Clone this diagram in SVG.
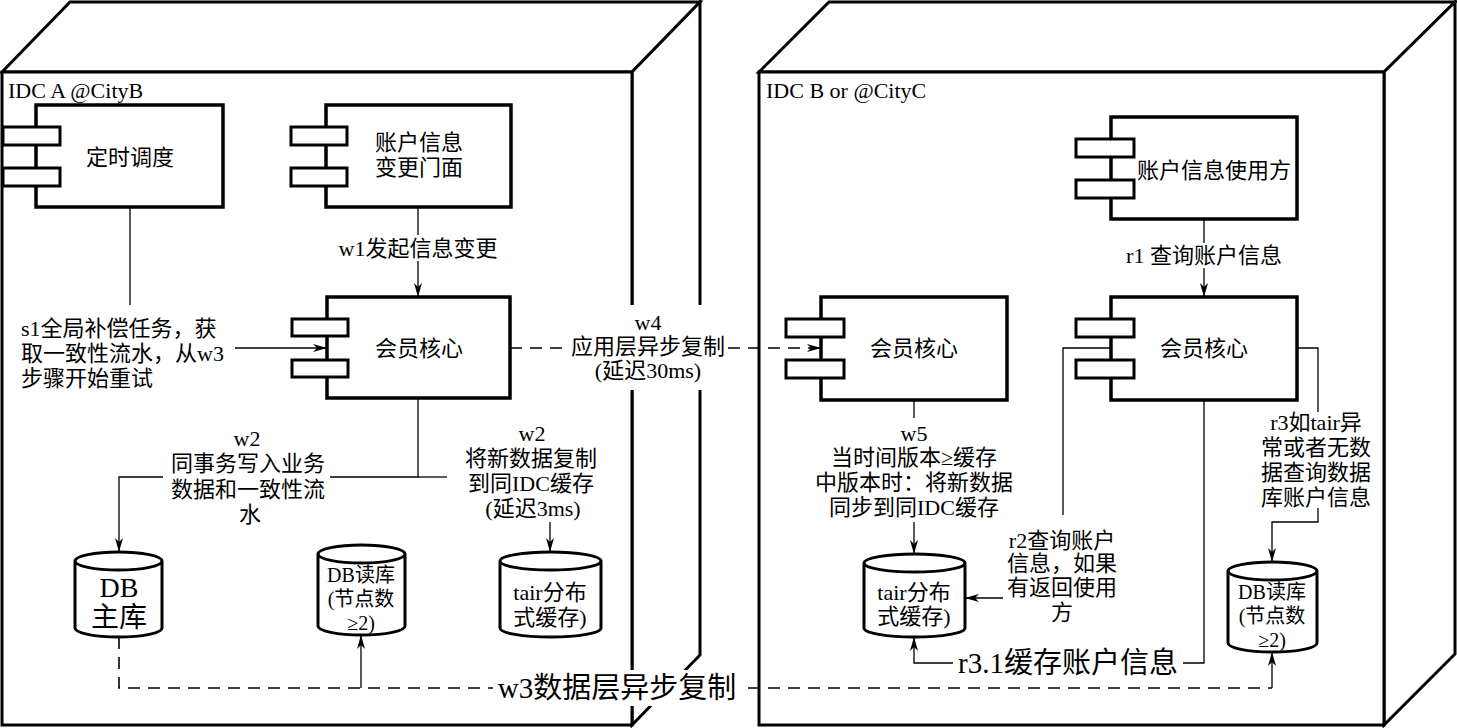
<svg xmlns="http://www.w3.org/2000/svg" width="1457" height="728" viewBox="0 0 1457 728">
<style>
.face{fill:#fff;stroke:#000;stroke-width:3;stroke-linejoin:miter}
.box{fill:#fff;stroke:#000;stroke-width:3.5}
.port{fill:#fff;stroke:#000;stroke-width:3}
.cyl{fill:#fff;stroke:#000;stroke-width:3}
.ln{fill:none;stroke:#000;stroke-width:1.3}
.dash{fill:none;stroke:#000;stroke-width:1.6;stroke-dasharray:12 8}
.t{font-family:"Liberation Serif","Noto Sans CJK SC",serif;font-size:22px;fill:#000}
.c{text-anchor:middle}
.big{font-size:29px}
.sm{font-size:20px}
.bg{fill:#fff;stroke:none}
</style>
<defs>
<marker id="arr" viewBox="0 0 14 8" refX="14" refY="4" markerWidth="14" markerHeight="8" orient="auto" markerUnits="userSpaceOnUse">
<path d="M0,0 L14,4 L0,8 L4,4 z" fill="#000"/>
</marker>
</defs>
<rect width="1457" height="728" fill="#fff"/>

<g id="idc-a">
<polygon class="face" points="2,72 70,2 700,2 632,72"/>
<polygon class="face" points="632,72 700,2 700,655 632,725"/>
<rect class="face" x="2" y="72" width="630" height="653"/>
<text class="t" x="8" y="98">IDC A @CityB</text>
</g>

<g id="idc-b">
<polygon class="face" points="759,72 829,2 1455,2 1384,72"/>
<polygon class="face" points="1384,72 1455,2 1455,654 1384,725"/>
<rect class="face" x="759" y="72" width="625" height="653"/>
<text class="t" x="766" y="98">IDC B or @CityC</text>
</g>

<g id="timer">
<rect class="box" x="36" y="105" width="187" height="102"/>
<rect class="port" x="3" y="127" width="57" height="18"/>
<rect class="port" x="3" y="168" width="57" height="18"/>
<text class="t c" x="130" y="165">定时调度</text>
</g>

<g id="facade">
<rect class="box" x="326" y="105" width="185" height="102"/>
<rect class="port" x="291" y="127" width="56" height="18"/>
<rect class="port" x="291" y="168" width="56" height="18"/>
<text class="t c" x="419" y="150">账户信息</text>
<text class="t c" x="419" y="175">变更门面</text>
</g>

<g id="core-a">
<rect class="box" x="327" y="297" width="183" height="101"/>
<rect class="port" x="292" y="319" width="56" height="17"/>
<rect class="port" x="292" y="360" width="56" height="17"/>
<text class="t c" x="419" y="356">会员核心</text>
</g>

<g id="user">
<rect class="box" x="1111" y="117" width="186" height="102"/>
<rect class="port" x="1076" y="139" width="58" height="18"/>
<rect class="port" x="1076" y="180" width="58" height="18"/>
<text class="t c" x="1214" y="178">账户信息使用方</text>
</g>

<g id="core-b1">
<rect class="box" x="821" y="297" width="186" height="103"/>
<rect class="port" x="786" y="319" width="58" height="18"/>
<rect class="port" x="786" y="360" width="58" height="18"/>
<text class="t c" x="914" y="356">会员核心</text>
</g>

<g id="core-b2">
<rect class="box" x="1111" y="297" width="186" height="103"/>
<rect class="port" x="1076" y="319" width="58" height="18"/>
<rect class="port" x="1076" y="360" width="58" height="18"/>
<text class="t c" x="1204" y="356">会员核心</text>
</g>

<g id="db-master">
<path class="cyl" d="M75,561 A43.5,9 0 0 1 162,561 A43.5,9 0 0 1 75,561 Z M75,561 L75,628 A43.5,9 0 0 0 162,628 L162,561"/>
<text class="t c" x="119" y="597" style="font-size:28px">DB</text>
<text class="t c" x="119" y="627" style="font-size:28px">主库</text>
</g>

<g id="db-read-a">
<path class="cyl" d="M318,554 A43.5,9 0 0 1 405,554 A43.5,9 0 0 1 318,554 Z M318,554 L318,626 A43.5,9 0 0 0 405,626 L405,554"/>
<text class="t c sm" x="361" y="582">DB读库</text>
<text class="t c sm" x="361" y="606">(节点数</text>
<text class="t c sm" x="361" y="630">≥2)</text>
</g>

<g id="tair-a">
<path class="cyl" d="M500,561 A50.5,9 0 0 1 601,561 A50.5,9 0 0 1 500,561 Z M500,561 L500,628 A50.5,9 0 0 0 601,628 L601,561"/>
<text class="t c" x="550" y="600">tair分布</text>
<text class="t c" x="550" y="625">式缓存)</text>
</g>

<g id="tair-b">
<path class="cyl" d="M864,563 A50.5,9 0 0 1 965,563 A50.5,9 0 0 1 864,563 Z M864,563 L864,628 A50.5,9 0 0 0 965,628 L965,563"/>
<text class="t c" x="914" y="600">tair分布</text>
<text class="t c" x="914" y="624">式缓存)</text>
</g>

<g id="db-read-b">
<path class="cyl" d="M1228,571 A44.5,9 0 0 1 1317,571 A44.5,9 0 0 1 1228,571 Z M1228,571 L1228,643 A44.5,9 0 0 0 1317,643 L1317,571"/>
<text class="t c sm" x="1272" y="599">DB读库</text>
<text class="t c sm" x="1272" y="623">(节点数</text>
<text class="t c sm" x="1272" y="647">≥2)</text>
</g>

<g id="connectors">
<!-- w1 -->
<path class="ln" d="M418,207 L418,235"/>
<path class="ln" d="M418,261 L418,297" marker-end="url(#arr)"/>
<text class="t c" x="418" y="256">w1发起信息变更</text>
<!-- r1 -->
<path class="ln" d="M1204,219 L1204,243"/>
<path class="ln" d="M1204,268 L1204,297" marker-end="url(#arr)"/>
<text class="t c" x="1204" y="263">r1 查询账户信息</text>
<!-- s1 -->
<path class="ln" d="M130,207 L130,305"/>
<path class="ln" d="M235,348 L327,348" marker-end="url(#arr)"/>
<text class="t" x="21" y="336">s1全局补偿任务，获</text>
<text class="t" x="21" y="361">取一致性流水，从w3</text>
<text class="t" x="21" y="386">步骤开始重试</text>
<!-- w2 left -->
<path class="ln" d="M418,398 L418,477 L330,477"/>
<path class="ln" d="M163,477 L119,477 L119,552" marker-end="url(#arr)"/>
<text class="t c" x="247" y="446">w2</text>
<text class="t c" x="248" y="471">同事务写入业务</text>
<text class="t c" x="248" y="497">数据和一致性流</text>
<text class="t c" x="250" y="522">水</text>
<!-- w2 right -->
<path class="ln" d="M418,477 L447,477"/>
<path class="ln" d="M550,522 L550,552" marker-end="url(#arr)"/>
<text class="t c" x="532" y="441">w2</text>
<text class="t c" x="531" y="466">将新数据复制</text>
<text class="t c" x="531" y="491">到同IDC缓存</text>
<text class="t c" x="533" y="516">(延迟3ms)</text>
<!-- w4 -->
<path class="dash" d="M510,348 L568,348"/>
<path class="dash" d="M728,348 L821,348" marker-end="url(#arr)"/>
<rect class="bg" x="568" y="305" width="160" height="85"/>
<text class="t c" x="648" y="330">w4</text>
<text class="t c" x="648" y="354">应用层异步复制</text>
<text class="t c" x="648" y="378">(延迟30ms)</text>
<!-- w5 -->
<path class="ln" d="M914,400 L914,418"/>
<path class="ln" d="M914,522 L914,554" marker-end="url(#arr)"/>
<text class="t c" x="914" y="441">w5</text>
<text class="t c" x="914" y="465">当时间版本≥缓存</text>
<text class="t c" x="914" y="490">中版本时：将新数据</text>
<text class="t c" x="914" y="515">同步到同IDC缓存</text>
<!-- r2 -->
<path class="ln" d="M1111,348 L1063,348 L1063,515"/>
<path class="ln" d="M1003,598 L965,598" marker-end="url(#arr)"/>
<text class="t c" x="1062" y="548">r2查询账户</text>
<text class="t c" x="1062" y="571">信息，如果</text>
<text class="t c" x="1062" y="595">有返回使用</text>
<text class="t c" x="1062" y="620">方</text>
<!-- r3 -->
<path class="ln" d="M1297,348 L1318,348 L1318,412"/>
<path class="ln" d="M1318,508 L1318,522 L1272,522 L1272,562" marker-end="url(#arr)"/>
<text class="t c" x="1316" y="430">r3如tair异</text>
<text class="t c" x="1316" y="455">常或者无数</text>
<text class="t c" x="1316" y="480">据查询数据</text>
<text class="t c" x="1316" y="505">库账户信息</text>
<!-- r3.1 -->
<path class="ln" d="M1204,400 L1204,663 L1183,663"/>
<path class="ln" d="M953,663 L914,663 L914,637" marker-end="url(#arr)"/>
<text class="t c big" x="1068" y="673">r3.1缓存账户信息</text>
<!-- w3 -->
<path class="dash" d="M119,637 L119,688 L1272,688"/>
<path class="ln" d="M361,688 L361,635" marker-end="url(#arr)"/>
<path class="ln" d="M1272,688 L1272,652" marker-end="url(#arr)"/>
<rect class="bg" x="493" y="670" width="249" height="36"/>
<text class="t c big" x="617" y="698">w3数据层异步复制</text>
</g>
</svg>
